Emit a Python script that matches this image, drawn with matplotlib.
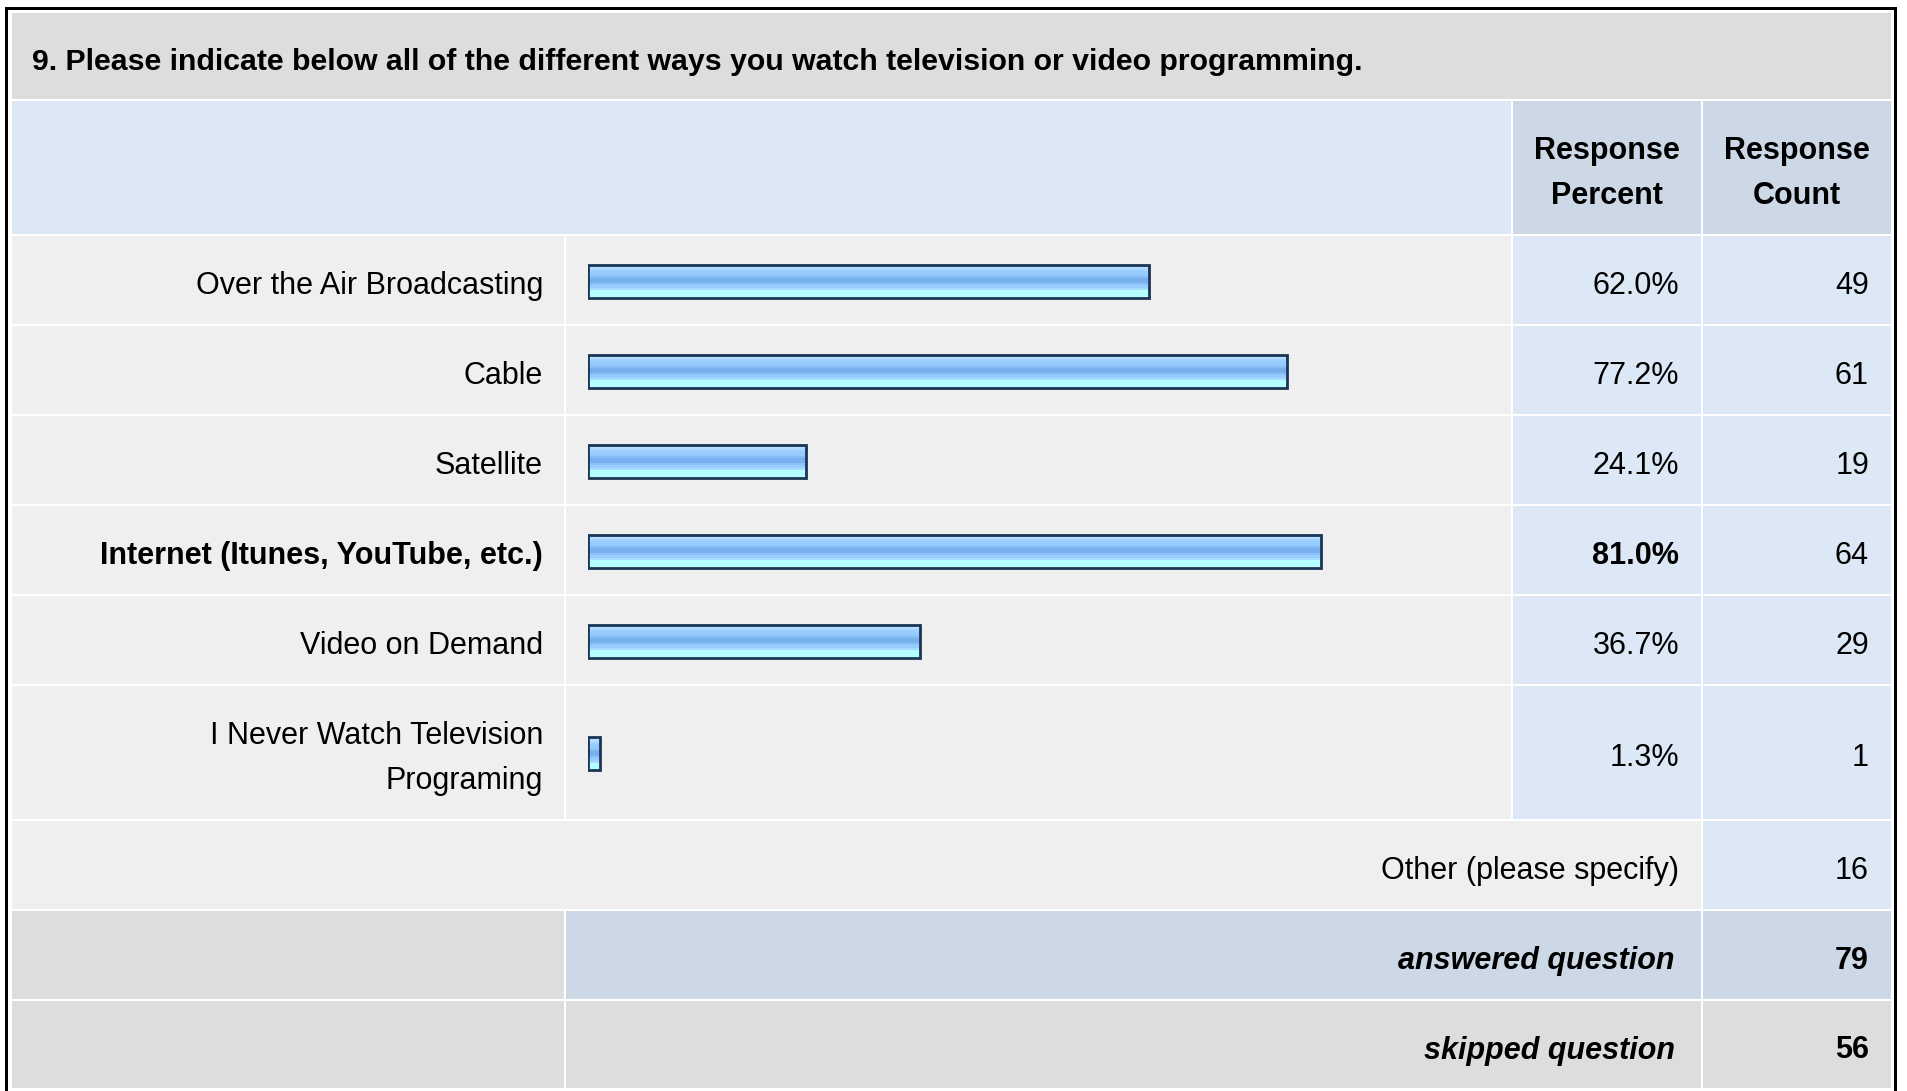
import numpy as np
import matplotlib
matplotlib.use("Agg")
import matplotlib.pyplot as plt
from matplotlib.patches import Rectangle
from matplotlib.colors import to_rgb

plt.rcParams['font.family'] = ['Liberation Sans', 'DejaVu Sans']

# ---- data ----
title = "9. Please indicate below all of the different ways you watch television or video programming."
options = ["Over the Air Broadcasting", "Cable", "Satellite",
           "Internet (Itunes, YouTube, etc.)", "Video on Demand",
           "I Never Watch Television\nPrograming"]
percents = [62.0, 77.2, 24.1, 81.0, 36.7, 1.3]
counts = [49, 61, 19, 64, 29, 1]
other_label = "Other (please specify)"
other_count = 16
answered_count = 79
skipped_count = 56

# ---- layout (pixels) ----
W, H = 1907, 1091
FS = 22
cols = [11, 565, 1512, 1702, 1892]
row_heights = [88, 135] + [90] * 5 + [135] + [90, 90, 89]
edges = np.concatenate([[12], 12 + np.cumsum(row_heights)])
g = 1.25

grey = '#dddddd'
row_bg = '#efefef'
blue = '#dce8f5'
blue_dark = '#ccd8e6'
navy = '#1b3556'

fig = plt.figure(figsize=(W / 100, H / 100), dpi=100)
ax = fig.add_axes([0, 0, 1, 1])
ax.set_xlim(0, W)
ax.set_ylim(H, 0)
ax.axis('off')

# outer frame
ax.add_patch(Rectangle((5, 7), 1892, H, fc='black', lw=0))
ax.add_patch(Rectangle((8, 9.5), 1885.5, H, fc='white', lw=0))


def cell(x0, x1, y0, y1, color):
    ax.add_patch(Rectangle((x0 + g, y0 + g), x1 - x0 - 2 * g, y1 - y0 - 2 * g,
                           fc=color, lw=0))


def txt(x, y, s, ha='right', size=FS, **kw):
    ax.text(x, y, s, ha=ha, va='baseline', fontsize=size, color='black', **kw)


# title band
cell(cols[0], cols[4], edges[0], edges[1], grey)
txt(32, 70, title, ha='left', fontweight='bold', size=21.8)

# header
y0, y1 = edges[1], edges[2]
cell(cols[0], cols[2], y0, y1, blue)
cell(cols[2], cols[3], y0, y1, blue_dark)
cell(cols[3], cols[4], y0, y1, blue_dark)
mid = (y0 + y1) / 2 + 14
for xc, second in [((cols[2] + cols[3]) / 2, "Percent"), ((cols[3] + cols[4]) / 2, "Count")]:
    txt(xc, mid - 23, "Response", ha='center', fontweight='bold')
    txt(xc, mid + 23, second, ha='center', fontweight='bold')

# option rows
top_pct = max(percents)
centers = []
for i, (lab, p, c) in enumerate(zip(options, percents, counts)):
    y0, y1 = edges[2 + i], edges[3 + i]
    cell(cols[0], cols[1], y0, y1, row_bg)
    cell(cols[1], cols[2], y0, y1, row_bg)
    cell(cols[2], cols[3], y0, y1, blue)
    cell(cols[3], cols[4], y0, y1, blue)
    yc = (y0 + y1) / 2
    centers.append(yc)
    base = yc + 14
    weight = 'bold' if p == top_pct else 'normal'
    lines = lab.split('\n')
    for k, line in enumerate(lines):
        txt(543, base + (k - (len(lines) - 1) / 2) * 46, line, fontweight=weight)
    txt(1679, base, f"{p:.1f}%", fontweight=weight)
    txt(1869, base, str(c))

# other row
y0, y1 = edges[8], edges[9]
cell(cols[0], cols[3], y0, y1, row_bg)
cell(cols[3], cols[4], y0, y1, blue)
txt(1679, (y0 + y1) / 2 + 14, other_label)
txt(1869, (y0 + y1) / 2 + 14, str(other_count))

# answered / skipped
for j, (lab, val, c_mid) in enumerate([("answered question", answered_count, blue_dark),
                                        ("skipped question", skipped_count, grey)]):
    y0, y1 = edges[9 + j], edges[10 + j]
    cell(cols[0], cols[1], y0, y1, grey)
    cell(cols[1], cols[3], y0, y1, c_mid)
    cell(cols[3], cols[4], y0, y1, c_mid)
    base = (y0 + y1) / 2 + 14
    txt(1675, base, lab, fontweight='bold', fontstyle='italic')
    txt(1869, base, str(val), fontweight='bold')

# ---- bars ----
bx = fig.add_axes([588.3 / W, 0, 905 / W, 1])
bx.axis('off')
band_colors = ['#cde8ff', '#b4dcff', '#a2d2ff', '#99ccff', '#96caff', '#86bdf6',
               '#78b0ef', '#78b0ef', '#8cc2f8', '#99ccff', '#a8dcff', '#b4feff',
               '#b4feff', '#b4feff']
grad = np.array([to_rgb(c) for c in band_colors])[:, None, :]
bar_h = 33
bar_y = [c + 1 for c in centers]
bars = bx.barh(bar_y, percents, height=bar_h, left=0, color='none',
               edgecolor=navy, linewidth=2, zorder=3)
for yc, p in zip(bar_y, percents):
    bx.imshow(grad, extent=(0, p, yc + bar_h / 2, yc - bar_h / 2),
              aspect='auto', interpolation='nearest', zorder=2)
bx.set_xlim(0, 100)
bx.set_ylim(H, 0)

fig.savefig("out.png", dpi=100)
